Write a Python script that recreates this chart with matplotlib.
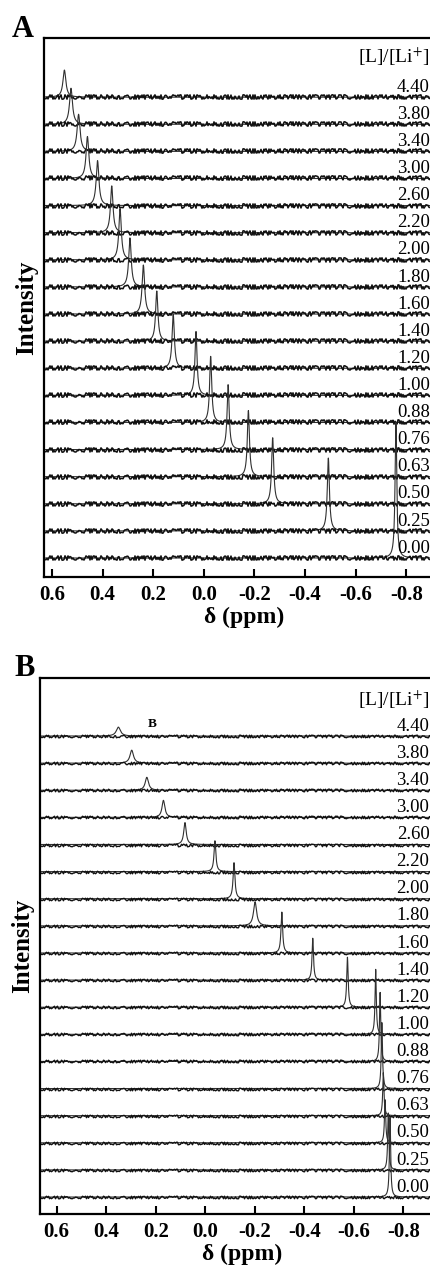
import numpy as np
import matplotlib
matplotlib.use("Agg")
import matplotlib.pyplot as plt

plt.rcParams["font.family"] = ["Liberation Serif", "DejaVu Serif"]
plt.rcParams["mathtext.fontset"] = "stix"
plt.rcParams["axes.unicode_minus"] = False

# [L]/[Li+] ratio of each trace, top trace first
ratios = ["4.40", "3.80", "3.40", "3.00", "2.60", "2.20", "2.00", "1.80", "1.60",
          "1.40", "1.20", "1.00", "0.88", "0.76", "0.63", "0.50", "0.25", "0.00"]

# panel A: peak shift (ppm), peak height (in trace spacings), line width (ppm)
shift_a = [0.551, 0.525, 0.495, 0.460, 0.420, 0.364, 0.331, 0.292, 0.239,
           0.186, 0.121, 0.031, -0.027, -0.096, -0.176, -0.272, -0.492, -0.759]
height_a = [1.00, 1.33, 1.37, 1.55, 1.66, 1.73, 1.88, 1.81, 1.81,
            1.85, 1.99, 2.36, 2.44, 2.40, 2.44, 2.44, 2.69, 5.02]
width_a = [0.014, 0.014, 0.014, 0.013, 0.013, 0.012, 0.012, 0.012, 0.012,
           0.011, 0.011, 0.010, 0.010, 0.010, 0.010, 0.010, 0.010, 0.008]

# panel B
shift_b = [0.351, 0.297, 0.236, 0.169, 0.082, -0.039, -0.116, -0.201, -0.309,
           -0.434, -0.574, -0.688, -0.706, -0.713, -0.719, -0.726, -0.739, -0.746]
height_b = [0.33, 0.48, 0.48, 0.63, 0.81, 1.14, 1.33, 0.89, 1.51,
            1.55, 1.85, 2.40, 2.55, 2.44, 1.59, 1.59, 2.10, 2.95]
width_b = [0.020, 0.017, 0.016, 0.014, 0.012, 0.009, 0.009, 0.015, 0.008,
           0.007, 0.007, 0.006, 0.006, 0.006, 0.006, 0.006, 0.006, 0.006]

ppm_ticks = [0.6, 0.4, 0.2, 0.0, -0.2, -0.4, -0.6, -0.8]

fig = plt.figure(figsize=(4.31, 12.69), dpi=100)


def panel(rect, xlim, ylim, shifts, heights, widths, noise, noise_lw, label_x,
          head_y, letter, letter_xy):
    ax = fig.add_axes(rect)
    x = np.linspace(0.75, -1.05, 4000)
    n = len(ratios)
    for i, r in enumerate(ratios):
        base = n - 1 - i
        hw = widths[i] / 2
        y = base + heights[i] / (1 + ((x - shifts[i]) / hw) ** 2)
        ax.plot(x, y, color="#303030", lw=0.8)
        # baseline noise drawn as a sketched line along the trace offset
        nl, = ax.plot(xlim, [base, base], color="#111111", lw=noise_lw)
        nl.set_sketch_params(scale=noise, length=1.2, randomness=6)
        ax.text(label_x, base + 0.2, r, fontsize=13.5, va="baseline", ha="right")
    ax.text(label_x, head_y, r"[L]/[Li$^{+}$]", fontsize=14, va="baseline", ha="right")
    ax.set_xlim(*xlim)
    ax.set_ylim(*ylim)
    ax.set_xticks(ppm_ticks)
    ax.set_xticklabels([f"{t:.1f}" for t in ppm_ticks], fontweight="bold")
    ax.set_yticks([])
    ax.tick_params(axis="x", direction="in", length=6, width=1.5, labelsize=15, pad=6)
    for s in ["left", "top", "bottom"]:
        ax.spines[s].set_linewidth(1.6)
    ax.spines["right"].set_visible(False)
    ax.set_xlabel("δ (ppm)", fontsize=17, fontweight="bold", labelpad=1)
    ax.set_ylabel("Intensity", fontsize=18, fontweight="bold", labelpad=4)
    fig.text(letter_xy[0], letter_xy[1], letter, fontsize=22, fontweight="bold",
             va="top", ha="left")
    return ax


panel([0.1021, 0.5453, 0.9304, 0.4247], (0.6316, -0.953), (-0.70, 19.18),
      shift_a, height_a, width_a, 2.2, 1.1, -0.893, 18.25, "A", (12 / 431, 1 - 15 / 1269))
ax_b = panel([0.0928, 0.0433, 0.9397, 0.4224], (0.6674, -0.968), (-0.627, 19.14),
             shift_b, height_b, width_b, 1.3, 1.0, -0.905, 18.1, "B", (14 / 431, 1 - 654 / 1269))
ax_b.text(0.215, 17.35, "B", fontsize=9.5, fontweight="bold", ha="center", va="baseline")

fig.savefig("out.png", dpi=100)
